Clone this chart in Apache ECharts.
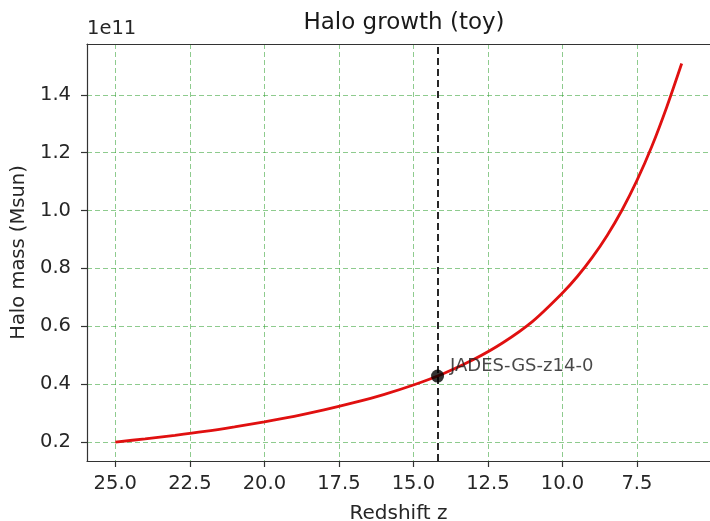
<!DOCTYPE html>
<html>
<head>
<meta charset="utf-8">
<script src="https://cdn.jsdelivr.net/npm/echarts@6/dist/echarts.min.js"></script>
<style>
  html, body { margin: 0; padding: 0; background: #fff; }
  #chart { width: 710px; height: 521px; }
</style>
</head>
<body>
<div id="chart"></div>
<script>
// redshift samples and halo mass (units of 1e11 Msun)
const redshift = [25, 24, 23, 22, 21, 20, 19, 18, 17, 16, 15, 14, 13, 12, 11, 10,
                  9.5, 9, 8.5, 8, 7.5, 7, 6.5, 6];
const haloMass = [0.200, 0.211, 0.223, 0.2365, 0.2525, 0.270, 0.289, 0.311, 0.336, 0.364, 0.397, 0.436,
                  0.484, 0.543, 0.617, 0.715, 0.772, 0.838, 0.914, 1.002, 1.104, 1.222, 1.358, 1.508];
const xTicks = [7.5, 10, 12.5, 15, 17.5, 20, 22.5, 25];
const yTicks = [0.2, 0.4, 0.6, 0.8, 1.0, 1.2, 1.4];
const galaxyName = "JADES-GS-z14-0";
const galaxyZ = 14.19;
const galaxyMass = 0.428;

const font = "DejaVu Sans";
const chart = echarts.init(document.getElementById("chart"));

const gridLine = {
  show: true,
  lineStyle: { color: "rgba(50,160,50,0.55)", width: 1, type: [5, 3] }
};

const spine = { show: true, onZero: false, lineStyle: { color: "#333", width: 1.2 } };

chart.setOption({
  animation: false,
  title: {
    text: "Halo growth (toy)",
    left: 399,
    textAlign: "center",
    top: 7,
    textStyle: { fontFamily: font, fontSize: 23, fontWeight: "normal", color: "#1a1a1a" }
  },
  graphic: [{
    type: "text",
    left: 87,
    top: 19,
    style: { text: "1e11", fontFamily: font, fontSize: 19.5, fill: "#262626" }
  }],
  grid: {
    left: 87, top: 44, right: 0, bottom: 60,
    outerBoundsMode: "none",
    containLabel: false,
    show: false
  },
  xAxis: [
    {
      type: "value",
      inverse: true,
      min: 5.05,
      max: 25.95,
      name: "Redshift z",
      nameLocation: "middle",
      nameGap: 43,
      nameTextStyle: { fontFamily: font, fontSize: 20, color: "#262626" },
      axisLine: spine,
      axisTick: { show: true, length: 6, customValues: xTicks, lineStyle: { color: "#333", width: 1.2 } },
      axisLabel: {
        customValues: xTicks,
        margin: 13,
        fontFamily: font, fontSize: 19.5, color: "#262626",
        formatter: v => v.toFixed(1)
      },
      splitLine: gridLine
    },
    {
      // top spine only
      type: "value",
      position: "top",
      inverse: true,
      min: 5.05,
      max: 25.95,
      axisLine: spine,
      axisTick: { show: false },
      axisLabel: { show: false },
      splitLine: { show: false }
    }
  ],
  yAxis: {
    type: "value",
    min: 0.1345,
    max: 1.5755,
    name: "Halo mass (Msun)",
    nameLocation: "middle",
    nameGap: 57,
    nameTextStyle: { fontFamily: font, fontSize: 19.5, color: "#262626" },
    axisLine: spine,
    axisTick: { show: true, length: 6, customValues: yTicks, lineStyle: { color: "#333", width: 1.2 } },
    axisLabel: {
      customValues: yTicks,
      margin: 16,
      fontFamily: font, fontSize: 19.5, color: "#262626",
      formatter: v => v.toFixed(1)
    },
    splitLine: gridLine
  },
  series: [
    {
      type: "line",
      data: redshift.map((z, i) => [z, haloMass[i]]),
      smooth: 0.3,
      showSymbol: false,
      lineStyle: { color: "#e01010", width: 2.8 },
      markLine: {
        silent: true,
        symbol: "none",
        label: { show: false },
        lineStyle: { color: "#111", width: 1.8, type: [7, 4] },
        data: [{ xAxis: galaxyZ }]
      },
      z: 3
    },
    {
      type: "scatter",
      data: [[galaxyZ, galaxyMass]],
      symbolSize: 13,
      itemStyle: { color: "#000" },
      label: {
        show: true,
        position: "right",
        distance: 6,
        offset: [0, -10],
        formatter: galaxyName,
        fontFamily: font, fontSize: 18, color: "#1a1a1a"
      },
      z: 5
    }
  ]
});
</script>
</body>
</html>
